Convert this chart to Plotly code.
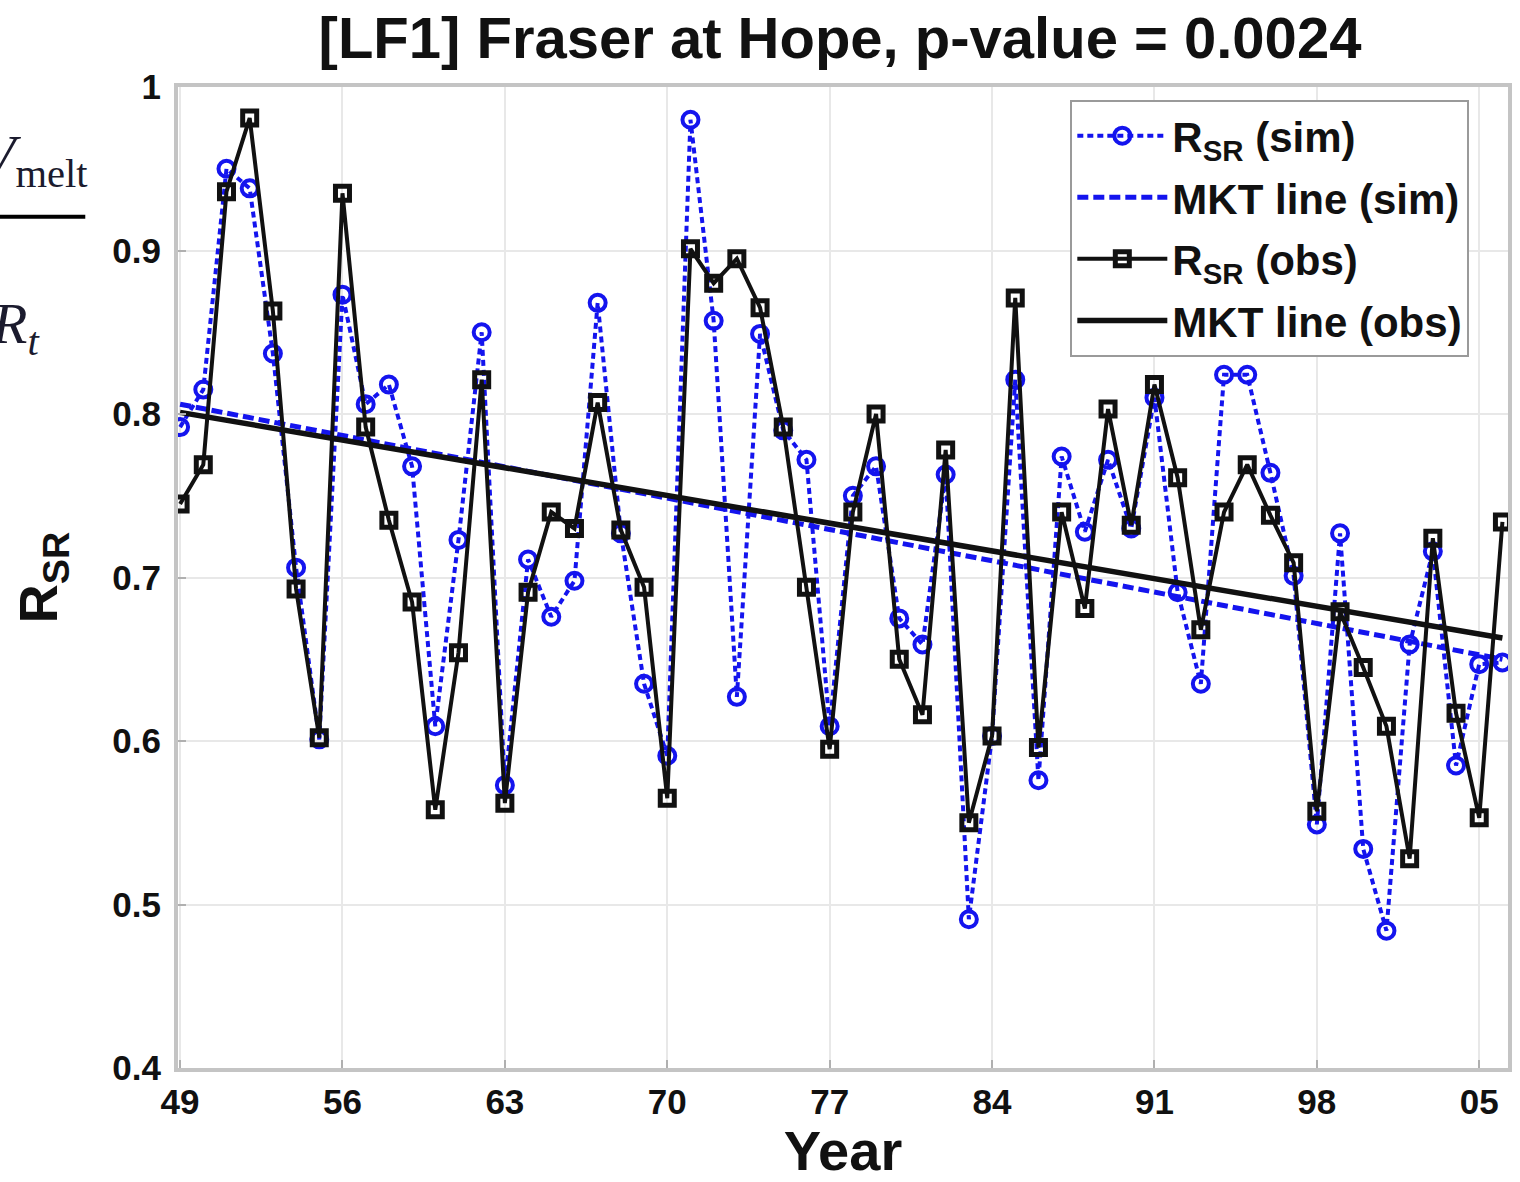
import plotly.graph_objects as go

# ---- data ----
years = list(range(1949, 2007))

rsr_sim = [0.792, 0.815, 0.950, 0.938, 0.837, 0.706, 0.601, 0.873, 0.806, 0.818,
           0.768, 0.609, 0.723, 0.850, 0.573, 0.711, 0.676, 0.698, 0.868, 0.727,
           0.635, 0.591, 0.980, 0.857, 0.627, 0.849, 0.790, 0.772, 0.609, 0.750,
           0.768, 0.675, 0.659, 0.763, 0.491, 0.603, 0.821, 0.576, 0.774, 0.728,
           0.772, 0.730, 0.810, 0.691, 0.635, 0.824, 0.824, 0.764, 0.701, 0.549,
           0.727, 0.534, 0.484, 0.659, 0.716, 0.585, 0.647, 0.648]

rsr_obs = [0.745, 0.769, 0.936, 0.981, 0.863, 0.693, 0.602, 0.935, 0.792, 0.735,
           0.685, 0.558, 0.654, 0.821, 0.562, 0.691, 0.740, 0.730, 0.807, 0.729,
           0.694, 0.565, 0.901, 0.880, 0.895, 0.865, 0.792, 0.694, 0.595, 0.740,
           0.800, 0.650, 0.616, 0.778, 0.550, 0.603, 0.871, 0.596, 0.740, 0.681,
           0.803, 0.732, 0.818, 0.761, 0.668, 0.740, 0.769, 0.738, 0.709, 0.557,
           0.679, 0.645, 0.609, 0.528, 0.724, 0.617, 0.553, 0.734]

mkt_years = [1949, 2006]
mkt_sim = [0.806, 0.650]
mkt_obs = [0.801, 0.663]

x_tick_vals = [1949, 1956, 1963, 1970, 1977, 1984, 1991, 1998, 2005]
x_tick_text = ["49", "56", "63", "70", "77", "84", "91", "98", "05"]
y_tick_vals = [0.4, 0.5, 0.6, 0.7, 0.8, 0.9, 1.0]
y_tick_text = ["0.4", "0.5", "0.6", "0.7", "0.8", "0.9", "1"]

BLUE = "#1414ee"
BLACK = "#111111"
FONT = "Liberation Sans, Arial, sans-serif"

fig = go.Figure()
fig.add_trace(go.Scatter(
    x=years, y=rsr_sim, mode="lines+markers", name="R<sub>SR</sub> (sim)",
    legendgroup="a",
    line=dict(color=BLUE, width=4, dash="6px,4px"),
    marker=dict(symbol="circle-open", size=16, color=BLUE, line=dict(width=4, color=BLUE)),
))
fig.add_trace(go.Scatter(
    x=mkt_years, y=mkt_sim, mode="lines", name="MKT line (sim)",
    legendgroup="b",
    line=dict(color=BLUE, width=5, dash="11px,5px"),
))
fig.add_trace(go.Scatter(
    x=years, y=rsr_obs, mode="lines+markers", name="R<sub>SR</sub> (obs)",
    legendgroup="c",
    line=dict(color=BLACK, width=4),
    marker=dict(symbol="square-open", size=14, color=BLACK, line=dict(width=5, color=BLACK)),
))
fig.add_trace(go.Scatter(
    x=mkt_years, y=mkt_obs, mode="lines", name="MKT line (obs)",
    legendgroup="d",
    line=dict(color=BLACK, width=5.5),
))

L, R, T, B = 178, 8, 87, 104
W, H = 1520, 1182
pw, ph = W - L - R, H - T - B

def px_x(p):
    return (p - L) / pw

def px_y(p):
    return (H - B - p) / ph

fig.update_layout(
    width=W, height=H,
    margin=dict(l=L, r=R, t=T, b=B),
    paper_bgcolor="white", plot_bgcolor="white",
    font=dict(family=FONT, color=BLACK),
    title=dict(text="[LF1] Fraser at Hope, p-value = 0.0024",
               x=px_x(842), xref="paper", xanchor="center",
               y=1 - 38 / H, yref="container", yanchor="middle",
               font=dict(size=58, weight="bold", family=FONT, color=BLACK)),
    showlegend=True,
    legend=dict(x=px_x(1073), y=px_y(100), xanchor="left", yanchor="top",
                bgcolor="white", bordercolor="#9a9a9a", borderwidth=2,
                font=dict(size=42, weight="bold", family=FONT, color=BLACK),
                itemwidth=90, tracegroupgap=4),
)

fig.update_xaxes(
    range=[1948.91, 2006.24], tickvals=x_tick_vals, ticktext=x_tick_text,
    showgrid=True, gridcolor="#e8e8e8", gridwidth=2, zeroline=False,
    showline=True, linecolor="#c4c4c4", linewidth=4, mirror=True,
    ticks="inside", ticklen=8, tickcolor="#b0b0b0", tickwidth=2,
    tickfont=dict(size=35, weight="bold", family=FONT, color=BLACK),
    title=dict(text="Year", standoff=14,
               font=dict(size=56, weight="bold", family=FONT, color=BLACK)),
)
fig.update_yaxes(
    range=[0.4, 1.0], tickvals=y_tick_vals, ticktext=y_tick_text,
    showgrid=True, gridcolor="#e8e8e8", gridwidth=2, zeroline=False,
    showline=True, linecolor="#c4c4c4", linewidth=4, mirror=True,
    ticks="inside", ticklen=8, tickcolor="#b0b0b0", tickwidth=2,
    tickfont=dict(size=35, weight="bold", family=FONT, color=BLACK),
    ticklabelstandoff=6,
    title=dict(text="R<sub>SR</sub>", standoff=38,
               font=dict(size=54, weight="bold", family=FONT, color=BLACK)),
)

# fragment of an equation visible at the left edge of the reference image
SERIF = "Liberation Serif, Times New Roman, serif"
fig.add_annotation(text="<i>V</i><sub>melt</sub>", xref="paper", yref="paper",
                   x=px_x(90), y=px_y(160), xanchor="right", yanchor="middle",
                   showarrow=False, font=dict(size=58, family=SERIF, color="#1b1b2e"))
fig.add_annotation(text="<i>R<sub>t</sub></i>", xref="paper", yref="paper",
                   x=px_x(42), y=px_y(330), xanchor="right", yanchor="middle",
                   showarrow=False, font=dict(size=58, family=SERIF, color="#1b1b2e"))
fig.add_shape(type="line", xref="paper", yref="paper",
              x0=px_x(-5), x1=px_x(85), y0=px_y(218), y1=px_y(218),
              line=dict(color="black", width=4))

fig.write_html("out.html")
